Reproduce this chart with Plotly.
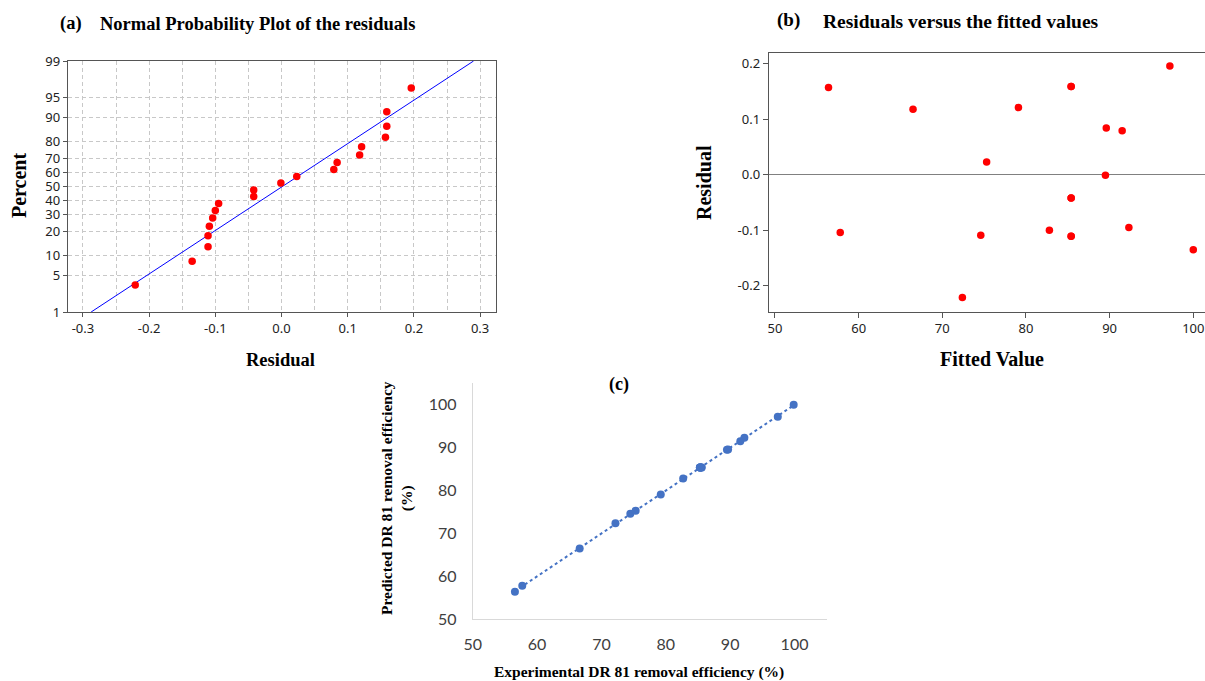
import numpy as np
import plotly.graph_objects as go
from statistics import NormalDist

# ---------------- data ----------------
fitted = [56.4, 57.8, 66.5, 72.4, 74.6, 75.3, 79.1, 82.8, 85.4, 85.4,
          85.4, 85.4, 85.4, 85.4, 89.5, 89.6, 91.5, 92.3, 97.2, 100.0]
residual = [0.157, -0.104, 0.118, -0.221, -0.109, 0.023, 0.121, -0.100, 0.159, 0.159,
            -0.042, -0.042, -0.111, -0.111, -0.001, 0.084, 0.079, -0.095, 0.196, -0.135]
prob_percent = [3.4, 8.3, 13.2, 18.1, 23.0, 27.9, 32.8, 37.7, 42.6, 47.5,
                52.5, 57.4, 62.3, 67.2, 72.1, 77.0, 81.9, 86.8, 91.7, 96.6]
percent_ticks = [1, 5, 10, 20, 30, 40, 50, 60, 70, 80, 90, 95, 99]
residual_ticks_a = [-0.3, -0.2, -0.1, 0.0, 0.1, 0.2, 0.3]
residual_ticks_b = [-0.2, -0.1, 0.0, 0.1, 0.2]

experimental = [56.56, 57.70, 66.62, 72.18, 74.49, 75.32, 79.22, 82.70, 85.56, 85.56,
                85.36, 85.36, 85.29, 85.29, 89.50, 89.68, 91.58, 92.21, 97.40, 99.87]
predicted = fitted

# ---------------- helpers ----------------
W, H = 1205, 681
nd = NormalDist()


def probit(p):
    return nd.inv_cdf(p / 100.0)


def px(x):
    return x / W


def py(y):
    return 1 - y / H


def lab(v):
    return f"{v:.1f}"


RED = "#ff0000"
BLUE = "#4472C4"
SERIF = "Liberation Serif"
TICKF = dict(family="Noto Sans", size=13, color="#222222")
GRID = "#c8c8c8"

fig = go.Figure()

# ---------- panel (a): normal probability plot ----------
res_sorted = sorted(residual)
mu = float(np.mean(residual))
sd = float(np.std(residual, ddof=1))
z_lo, z_hi = probit(percent_ticks[0]), probit(percent_ticks[-1])

fig.add_trace(go.Scatter(
    x=[mu + sd * z_lo, mu + sd * z_hi], y=[z_lo, z_hi], mode="lines",
    line=dict(color="#0000ff", width=1), xaxis="x", yaxis="y",
    showlegend=False, hoverinfo="skip"))
fig.add_trace(go.Scatter(
    x=res_sorted, y=[probit(p) for p in prob_percent], mode="markers",
    marker=dict(color=RED, size=7.5), xaxis="x", yaxis="y", showlegend=False))

# ---------- panel (b): residuals vs fitted ----------
fig.add_trace(go.Scatter(
    x=fitted, y=residual, mode="markers",
    marker=dict(color=RED, size=7.5), xaxis="x2", yaxis="y2", showlegend=False))

# ---------- panel (c): experimental vs predicted ----------
coef = np.polyfit(experimental, predicted, 1)
xl = [min(experimental), max(experimental)]
fig.add_trace(go.Scatter(
    x=xl, y=[coef[0] * v + coef[1] for v in xl], mode="lines",
    line=dict(color=BLUE, width=2, dash="dot"), xaxis="x3", yaxis="y3",
    showlegend=False, hoverinfo="skip"))
fig.add_trace(go.Scatter(
    x=experimental, y=predicted, mode="markers",
    marker=dict(color=BLUE, size=8), xaxis="x3", yaxis="y3", showlegend=False))

fig.update_layout(
    width=W, height=H, margin=dict(l=0, r=0, t=0, b=0),
    paper_bgcolor="white", plot_bgcolor="white",
    xaxis=dict(domain=[px(67.7), px(496)], range=[-0.323, 0.324], anchor="y",
               automargin=False,
               tickvals=residual_ticks_a, ticktext=[lab(v) for v in residual_ticks_a],
               tickfont=TICKF,
               showgrid=True, gridcolor=GRID, griddash="4px,3px", gridwidth=1,
               minor=dict(dtick=0.05, tick0=0, showgrid=True, gridcolor=GRID,
                          griddash="4px,3px", ticks=""),
               showline=True, linecolor="#555555", linewidth=1, mirror=True,
               ticks="outside", ticklen=4, tickcolor="#555555", zeroline=False),
    yaxis=dict(domain=[py(312), py(61)], range=[z_lo, z_hi], anchor="x",
               automargin=False,
               tickvals=[probit(p) for p in percent_ticks],
               ticktext=[str(p) for p in percent_ticks], tickfont=TICKF,
               showgrid=True, gridcolor=GRID, griddash="4px,3px", gridwidth=1,
               showline=True, linecolor="#555555", linewidth=1, mirror=True,
               ticks="outside", ticklen=4, tickcolor="#555555", zeroline=False),
    xaxis2=dict(domain=[px(768.7), 1.0], range=[49.25, 101.4], anchor="y2",
                automargin=False,
                dtick=10, tick0=50, tickfont=TICKF, showgrid=False,
                showline=True, linecolor="#555555", linewidth=1, mirror=True,
                ticks="outside", ticklen=5, tickcolor="#555555", zeroline=False),
    yaxis2=dict(domain=[py(311.7), py(52.7)], range=[-0.2468, 0.2198], anchor="x2",
                automargin=False,
                tickvals=residual_ticks_b, ticktext=[lab(v) for v in residual_ticks_b],
                tickfont=TICKF, showgrid=False,
                showline=True, linecolor="#555555", linewidth=1, mirror=False,
                ticks="outside", ticklen=5, tickcolor="#555555",
                zeroline=True, zerolinecolor="#808080", zerolinewidth=1),
    xaxis3=dict(domain=[px(472.7), px(826.7)], range=[50, 105], anchor="y3",
                automargin=False,
                dtick=10, tick0=50, showgrid=False, zeroline=False,
                showline=True, linecolor="#d9d9d9", linewidth=1, ticks="",
                ticklabelstandoff=10,
                tickfont=dict(family="Lato", size=16, color="#404040")),
    yaxis3=dict(domain=[py(619.3), py(383.3)], range=[50, 105], anchor="x3",
                automargin=False,
                dtick=10, tick0=50, showgrid=False, zeroline=False,
                showline=True, linecolor="#d9d9d9", linewidth=1, ticks="",
                ticklabelstandoff=12,
                tickfont=dict(family="Lato", size=16, color="#404040")),
)


def ann(text, x, y, size, angle=0, xanchor="center", yanchor="middle"):
    fig.add_annotation(text=text, x=px(x), y=py(y), xref="paper", yref="paper",
                       showarrow=False, textangle=angle, xanchor=xanchor,
                       yanchor=yanchor,
                       font=dict(family=SERIF, size=size, color="black"))


# panel (a) texts
ann("<b>(a)</b>", 71, 23, 18.5)
ann("<b>Normal Probability Plot of the residuals</b>", 98, 24, 18.5, xanchor="left")
ann("<b>Percent</b>", 19, 186, 20, angle=-90)
ann("<b>Residual</b>", 280, 360, 18.5)

# panel (b) texts
ann("<b>(b)</b>", 788, 20, 19)
ann("<b>Residuals versus the fitted values</b>", 821, 21, 19.5, xanchor="left")
ann("<b>Residual</b>", 704, 183, 20, angle=-90)
ann("<b>Fitted Value</b>", 992, 359, 20)

# panel (c) texts
ann("<b>(c)</b>", 619, 384, 18)
ann("<b>Predicted DR 81 removal efficiency<br>(%)</b>", 397, 498, 15.5, angle=-90)
ann("<b>Experimental DR 81 removal efficiency (%)</b>", 639, 672, 15.5)

fig.write_html(
    "out.html",
    config={"displayModeBar": False},
    post_script="document.body.style.margin='0';document.body.style.overflow='hidden';",
)
